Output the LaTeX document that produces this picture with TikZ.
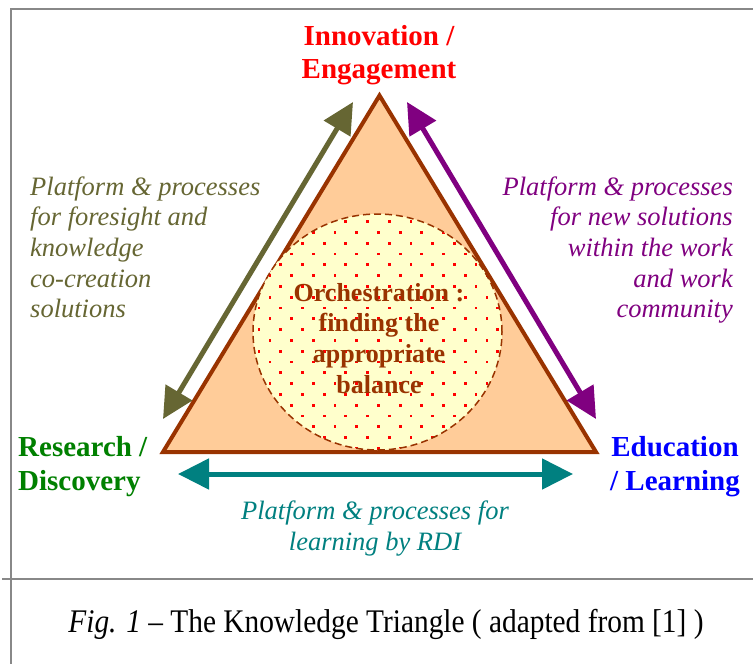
\documentclass[tikz,border=0pt]{standalone}
\usepackage{fontspec}
\setmainfont{Liberation Serif}
\newfontfamily\capfont[FakeStretch=0.89]{Liberation Serif}
\usetikzlibrary{arrows.meta}
\definecolor{olivec}{HTML}{666633}
\definecolor{purplec}{HTML}{800080}
\definecolor{tealc}{HTML}{008080}
\definecolor{brownc}{HTML}{993300}
\definecolor{trifill}{HTML}{FFCC99}
\definecolor{circfill}{HTML}{FFFFCC}
\definecolor{greenc}{HTML}{008000}
\definecolor{bluec}{HTML}{0000FF}
\definecolor{redc}{HTML}{FF0000}
\definecolor{framec}{HTML}{888888}
\begin{document}
\begin{tikzpicture}[x=1pt,y=-1pt,
  boldlbl/.style={font=\bfseries\fontsize{29}{33.5}\selectfont, inner sep=0pt},
  itlbl/.style={font=\itshape\fontsize{26.5}{30.7}\selectfont, inner sep=0pt},
  dblarrow/.style={line width=5pt, {Triangle[length=31pt,width=30pt]}-{Triangle[length=31pt,width=30pt]}},
  framestyle/.style={draw=framec, line width=1.8pt},
  tri/.style={draw=brownc, fill=trifill, line width=4pt, line join=miter},
  orchtext/.style={font=\bfseries\fontsize{26}{30.7}\selectfont, text=brownc, inner sep=0pt, align=center}
]
\useasboundingbox (0,0) rectangle (753,664);
\fill[white] (0,0) rectangle (753,664);
% frame
\draw[framestyle] (10.6,664) -- (10.6,9.3) -- (753,9.3);
\draw[framestyle] (2,579) -- (753,579);
% triangle
\coordinate (A) at (379.5,95.5);
\coordinate (B) at (163,452);
\coordinate (C) at (596,452);
\draw[tri] (A) -- (B) -- (C) -- cycle;
% central ellipse
\coordinate (E) at (377.5,332);
\fill[circfill] (E) ellipse [x radius=124.5pt, y radius=118pt];
\begin{scope}
\clip (E) ellipse [x radius=124.5pt, y radius=118pt];
\foreach \n in {-22,...,3}{
  \foreach \m in {-4,...,9}{
    \pgfmathsetmacro\dx{313.3+21.7*\m+10.85*mod(abs(\n),2)}
    \pgfmathsetmacro\dy{426.7+10.8*\n}
    \fill[redc] (\dx-1.4,\dy-1.4) rectangle (\dx+1.4,\dy+1.4);
  }}
\end{scope}
\draw[brownc, line width=1.5pt, dash pattern=on 7pt off 4pt] (E) ellipse [x radius=124.5pt, y radius=118pt];
\node[orchtext, anchor=base] (orch) at (379,393.1) {Orchestration :\\finding the\\appropriate\\balance};
% arrows
\coordinate (oL) at (163,419);
\coordinate (oT) at (353,102);
\coordinate (pT) at (407,102);
\coordinate (pR) at (596,419);
\coordinate (tL) at (178,474);
\coordinate (tR) at (573,474);
\draw[dblarrow, olivec] (oL) -- (oT);
\draw[dblarrow, purplec] (pT) -- (pR);
\draw[dblarrow, tealc] (tL) -- (tR);
% corner labels
\node[boldlbl, text=redc, align=center, anchor=base] (inno) at (379,78.5) {Innovation /\\Engagement};
\node[boldlbl, text=greenc, align=left, anchor=base west] (res) at (18,490) {Research /\\Discovery};
\node[boldlbl, text=bluec, align=center, anchor=base] (edu) at (675,490) {Education\\/ Learning};
% side labels
\node[itlbl, text=olivec, align=left, anchor=base west] (lbl1) at (30,317.8) {Platform \& processes\\for foresight and\\knowledge\\co-creation\\solutions};
\node[itlbl, text=purplec, align=right, anchor=base east] (lbl2) at (733,317.8) {Platform \& processes\\for new solutions\\within the work\\and work\\community};
\node[itlbl, text=tealc, align=center, anchor=base, font=\itshape\fontsize{26.5}{31.5}\selectfont] (lbl3) at (375,550.5) {Platform \& processes for\\learning by RDI};
% caption
\node[inner sep=0pt, anchor=base, font=\capfont\fontsize{33}{36}\selectfont] (cap) at (386,632) {\textit{Fig. 1} – The Knowledge Triangle ( adapted from [1] )};
\end{tikzpicture}
\end{document}
